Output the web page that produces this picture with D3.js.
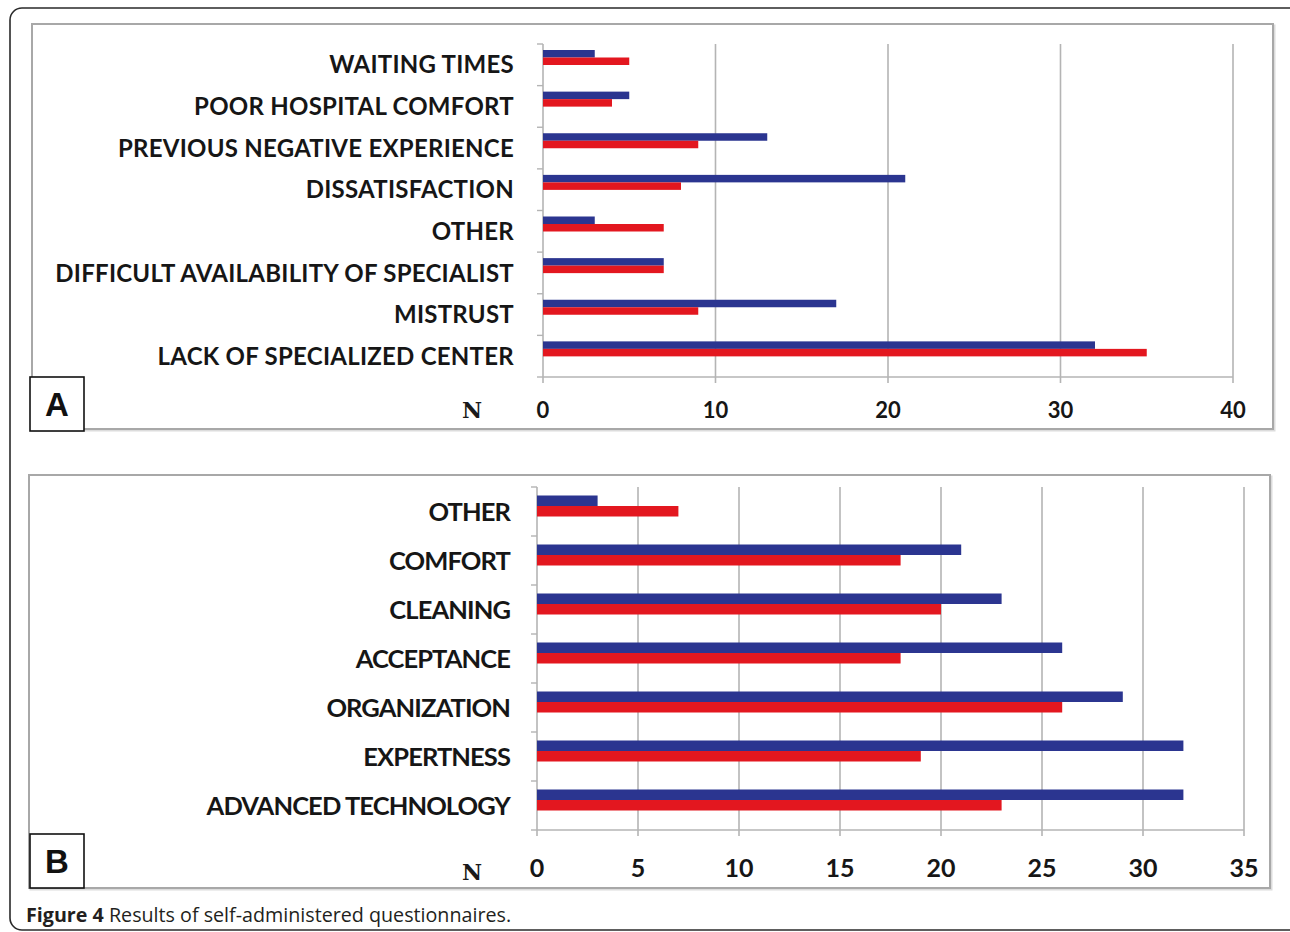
<!DOCTYPE html>
<html>
<head>
<meta charset="utf-8">
<script src="https://cdn.jsdelivr.net/npm/d3@7"></script>
<style>
  html, body { margin: 0; padding: 0; background: #fff; }
  svg { display: block; }
</style>
</head>
<body>
<svg id="chart" width="1290" height="932"></svg>
<script>
// ---------- data ----------
const categoriesA = ["WAITING TIMES", "POOR HOSPITAL COMFORT", "PREVIOUS NEGATIVE EXPERIENCE",
  "DISSATISFACTION", "OTHER", "DIFFICULT AVAILABILITY OF SPECIALIST", "MISTRUST",
  "LACK OF SPECIALIZED CENTER"];
const blueA = [3, 5, 13, 21, 3, 7, 17, 32];
const redA  = [5, 4, 9, 8, 7, 7, 9, 35];
const ticksA = [0, 10, 20, 30, 40];

const categoriesB = ["OTHER", "COMFORT", "CLEANING", "ACCEPTANCE", "ORGANIZATION",
  "EXPERTNESS", "ADVANCED TECHNOLOGY"];
const blueB = [3, 21, 23, 26, 29, 32, 32];
const redB  = [7, 18, 20, 18, 26, 19, 23];
const ticksB = [0, 5, 10, 15, 20, 25, 30, 35];

const panelLetters = ["A", "B"];
const axisTitle = "N";
const captionBold = "Figure 4";
const captionText = " Results of self-administered questionnaires.";

// ---------- drawing ----------
const BLUE = "#2b3590", RED = "#e3171f", GRID = "#b4b4b4";
const svg = d3.select("#chart");

// outer rounded frame
svg.append("rect").attr("x", 10).attr("y", 8).attr("width", 1300).attr("height", 922)
  .attr("rx", 12).attr("fill", "none").attr("stroke", "#2a2a2a").attr("stroke-width", 1.6);

function panel(cfg) {
  const g = svg.append("g");
  // panel box with soft shadow
  g.append("rect").attr("x", cfg.box[0] + 1.5).attr("y", cfg.box[1] + 1.5)
    .attr("width", cfg.box[2] - cfg.box[0]).attr("height", cfg.box[3] - cfg.box[1])
    .attr("fill", "none").attr("stroke", "#dcdcdc").attr("stroke-width", 2);
  g.append("rect").attr("x", cfg.box[0]).attr("y", cfg.box[1])
    .attr("width", cfg.box[2] - cfg.box[0]).attr("height", cfg.box[3] - cfg.box[1])
    .attr("fill", "#fff").attr("stroke", "#a8a8a8").attr("stroke-width", 2);

  const x = d3.scaleLinear().domain([0, cfg.ticks[cfg.ticks.length - 1]]).range(cfg.xr);
  const y = d3.scaleBand().domain(cfg.cats).range(cfg.yr).paddingInner(0).paddingOuter(0);
  const sub = d3.scaleBand().domain(["blue", "red"]).range(cfg.sub);

  // gridlines
  g.selectAll(".grid").data(cfg.ticks).join("line")
    .attr("x1", d => x(d)).attr("x2", d => x(d))
    .attr("y1", cfg.yr[0]).attr("y2", cfg.yr[1] + 6)
    .attr("stroke", GRID).attr("stroke-width", 1.6);
  // bottom axis line
  g.append("line").attr("x1", x(0)).attr("x2", x(cfg.ticks[cfg.ticks.length - 1]))
    .attr("y1", cfg.yr[1]).attr("y2", cfg.yr[1]).attr("stroke", GRID).attr("stroke-width", 1.6);
  // category tick marks
  const bounds = cfg.cats.map(c => y(c)).concat([cfg.yr[1]]);
  g.selectAll(".ytick").data(bounds).join("line")
    .attr("x1", x(0) - 6).attr("x2", x(0)).attr("y1", d => d).attr("y2", d => d)
    .attr("stroke", GRID).attr("stroke-width", 1.4);

  // bars
  const rows = cfg.cats.map((c, i) => ({ c, blue: cfg.blue[i], red: cfg.red[i] }));
  g.selectAll(".bb").data(rows).join("rect")
    .attr("x", x(0)).attr("y", d => y(d.c) + sub("blue"))
    .attr("width", d => x(d.blue) - x(0)).attr("height", sub.bandwidth())
    .attr("fill", BLUE);
  g.selectAll(".rb").data(rows).join("rect")
    .attr("x", x(0)).attr("y", d => y(d.c) + sub("red"))
    .attr("width", d => x(d.red) - x(0)).attr("height", sub.bandwidth())
    .attr("fill", RED);

  // category labels
  g.selectAll(".lab").data(cfg.cats).join("text")
    .attr("x", cfg.labelX).attr("y", d => y(d) + y.bandwidth() / 2)
    .attr("dy", "0.36em").attr("text-anchor", "end")
    .attr("font-family", "Lato, 'Open Sans', sans-serif").attr("font-weight", 700)
    .attr("font-size", cfg.labelSize).attr("fill", "#161616")
    .attr("letter-spacing", cfg.labelSpacing)
    .text(d => d);

  // tick labels
  g.selectAll(".tl").data(cfg.ticks).join("text")
    .attr("x", d => x(d)).attr("y", cfg.tickY).attr("dy", "0.36em")
    .attr("text-anchor", "middle")
    .attr("font-family", "Lato, 'Open Sans', sans-serif").attr("font-weight", 700)
    .attr("font-size", cfg.tickSize).attr("fill", "#161616")
    .text(d => d);

  // axis title N
  g.append("text").attr("x", cfg.nX).attr("y", cfg.tickY + cfg.nDy).attr("dy", "0.36em")
    .attr("text-anchor", "middle").attr("font-family", "'DejaVu Serif', serif")
    .attr("font-weight", 700).attr("font-size", 22).attr("fill", "#1a1a1a")
    .text(axisTitle);

  // letter box
  g.append("rect").attr("x", 30).attr("y", cfg.letterY).attr("width", 54).attr("height", 54)
    .attr("fill", "#fff").attr("stroke", "#111").attr("stroke-width", 1.6);
  g.append("text").attr("x", 57).attr("y", cfg.letterY + 27).attr("dy", "0.36em")
    .attr("text-anchor", "middle").attr("font-family", "'Liberation Sans', Arial, sans-serif")
    .attr("font-weight", 700).attr("font-size", 33).attr("fill", "#111")
    .text(cfg.letter);
}

panel({
  box: [32, 24, 1273, 429], cats: categoriesA, blue: blueA, red: redA, ticks: ticksA,
  xr: [543, 1233], yr: [44, 377], sub: [6, 21], labelX: 514, labelSize: 24, labelSpacing: 0.25,
  tickY: 410, tickSize: 22, nX: 472, nDy: 0, letter: panelLetters[0], letterY: 377
});
panel({
  box: [29, 475, 1270, 888], cats: categoriesB, blue: blueB, red: redB, ticks: ticksB,
  xr: [537, 1244], yr: [487, 830], sub: [8.5, 29.5], labelX: 510, labelSize: 25.5, labelSpacing: -0.9,
  tickY: 868, tickSize: 25, nX: 472, nDy: 4, letter: panelLetters[1], letterY: 834
});

// caption
const cap = svg.append("text").attr("x", 26).attr("y", 922)
  .attr("font-family", "'Open Sans', sans-serif").attr("font-size", 19.7).attr("fill", "#231f20");
cap.append("tspan").attr("font-weight", 700).text(captionBold);
cap.append("tspan").text(captionText);
</script>
</body>
</html>
